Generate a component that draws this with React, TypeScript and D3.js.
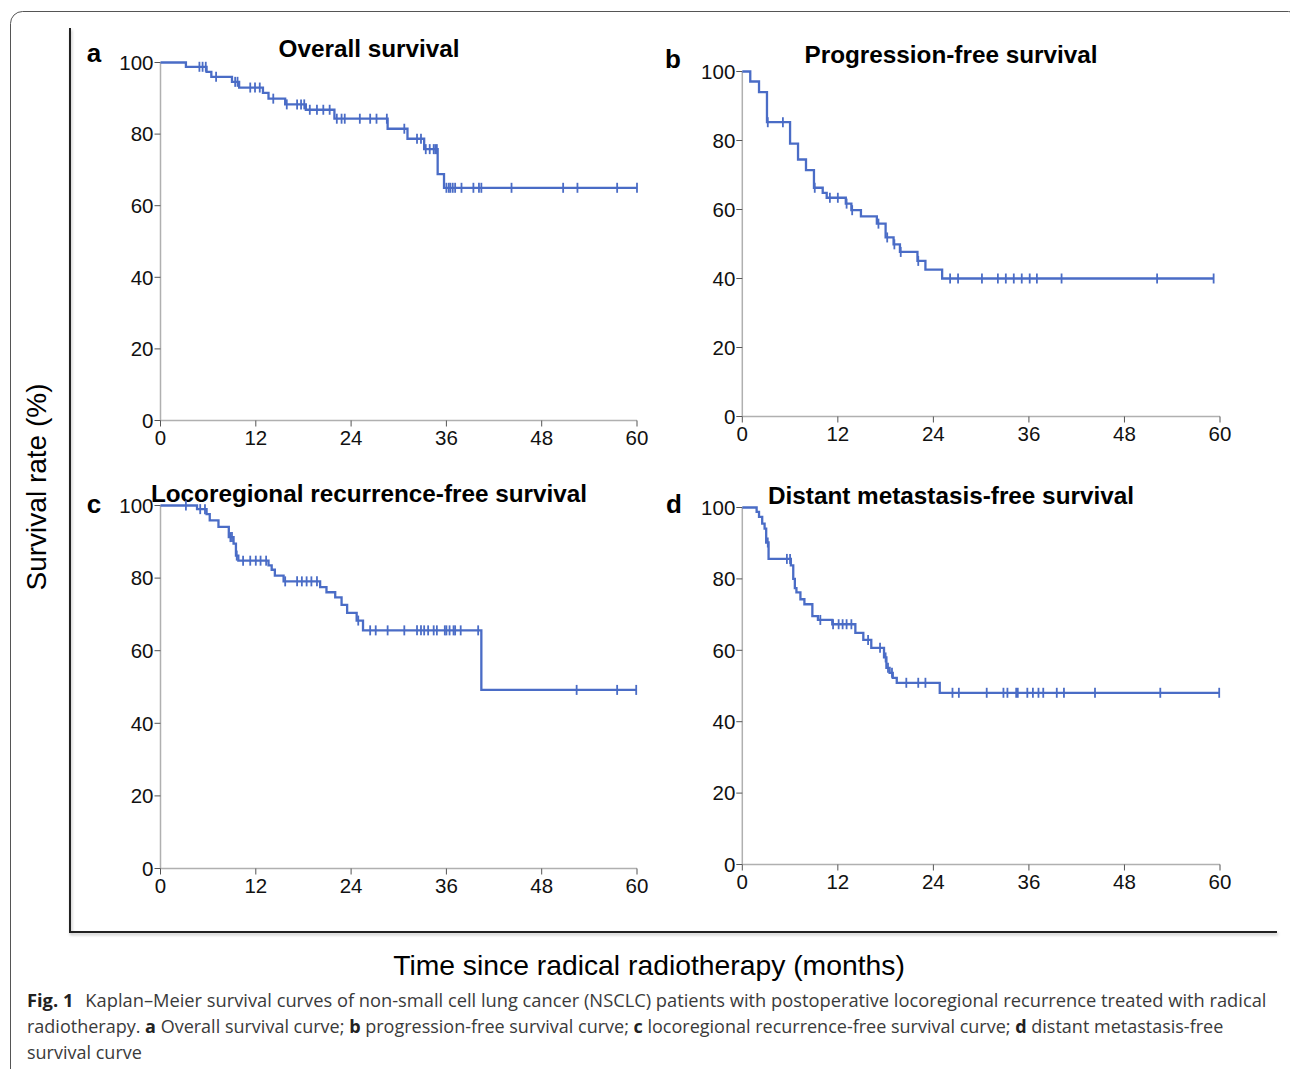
import React from "react";
import * as d3 from "d3";

// overall survival
const osTimes = [3.2, 5.8, 6.4, 9.0, 9.9, 12.9, 13.6, 15.7, 18.3, 21.9, 28.6, 31.1, 33.2, 34.9, 35.7];
const osSurv = [98.8, 97.4, 96.0, 94.6, 93.0, 91.5, 89.9, 88.3, 86.8, 84.3, 81.5, 78.7, 75.8, 68.8, 65.0];
const osCensor = [4.9, 5.3, 5.7, 7.0, 9.4, 9.7, 11.3, 11.9, 12.5, 14.2, 15.9, 17.2, 17.7, 18.1, 18.8, 19.7, 20.5, 21.3, 22.2, 22.8, 23.2, 25.1, 26.4, 27.2, 28.5, 30.7, 32.3, 32.8, 33.4, 33.9, 34.4, 34.6, 34.8, 36.0, 36.3, 36.5, 36.8, 37.1, 37.9, 39.4, 40.1, 40.4, 44.2, 50.7, 52.5, 57.5, 60.0];

// progression-free survival
const pfsTimes = [1.0, 2.1, 3.1, 6.0, 7.0, 8.0, 9.0, 10.1, 10.6, 13.0, 13.7, 14.9, 16.9, 18.0, 19.0, 19.8, 22.0, 23.0, 25.1];
const pfsSurv = [97.1, 94.0, 85.3, 79.1, 74.5, 71.4, 66.3, 64.8, 63.4, 61.7, 59.8, 58.0, 55.9, 51.9, 49.9, 47.7, 45.1, 42.6, 40.0];
const pfsCensor = [3.2, 5.1, 9.1, 11.0, 12.0, 13.1, 13.8, 17.1, 18.2, 19.1, 19.9, 22.1, 26.1, 27.1, 30.1, 32.1, 33.1, 34.1, 35.1, 36.1, 37.0, 40.1, 52.1, 59.2];

// locoregional recurrence-free survival
const lrTimes = [4.6, 5.8, 6.2, 7.3, 8.6, 9.2, 9.5, 9.8, 13.6, 14.0, 14.4, 15.5, 20.1, 20.9, 22.0, 22.8, 23.5, 24.7, 25.5, 40.4];
const lrSurv = [99.0, 97.6, 95.9, 94.1, 91.3, 89.5, 86.2, 84.8, 83.5, 82.3, 80.7, 79.1, 77.5, 76.1, 74.7, 72.6, 70.4, 68.3, 65.6, 49.2];
const lrCensor = [3.2, 5.0, 5.6, 8.8, 9.0, 9.6, 10.4, 11.3, 12.0, 12.6, 13.3, 15.7, 17.2, 17.8, 18.4, 19.0, 19.7, 24.9, 26.4, 27.1, 28.6, 30.7, 32.3, 32.8, 33.2, 33.7, 34.4, 34.8, 35.8, 36.0, 36.4, 36.9, 37.1, 37.8, 40.0, 52.4, 57.5, 59.9];

// distant metastasis-free survival
const dmTimes = [1.8, 2.1, 2.5, 2.8, 3.0, 3.3, 6.1, 6.4, 6.6, 6.8, 7.3, 7.8, 8.8, 9.5, 11.3, 14.2, 15.2, 16.2, 17.8, 18.1, 18.5, 18.9, 19.4, 24.8];
const dmSurv = [98.8, 97.4, 95.5, 94.1, 90.2, 85.6, 83.8, 80.0, 77.4, 76.2, 74.3, 72.9, 69.6, 68.5, 67.3, 64.9, 62.9, 60.7, 58.0, 55.1, 53.7, 52.3, 50.9, 48.1];
const dmCensor = [3.2, 5.6, 6.0, 9.8, 11.4, 12.1, 12.6, 13.1, 13.7, 15.8, 17.3, 18.0, 18.3, 18.8, 20.6, 22.1, 23.0, 26.4, 27.2, 30.7, 32.8, 33.3, 34.4, 34.6, 35.8, 36.5, 37.2, 37.8, 39.5, 40.4, 44.3, 52.5, 59.9];

const xTicks = [0, 12, 24, 36, 48, 60];
const yTicks = [0, 20, 40, 60, 80, 100];

const BLUE = "#4a6cc6";
const FONT = "'Liberation Sans', Arial, Helvetica, sans-serif";

type PanelProps = {
  x0: number; x1: number; yTop: number; yBot: number;
  letter: string; lx: number; ly: number;
  title: string; tx: number; ty: number;
  times: number[]; surv: number[]; censor: number[];
};

const Panel = ({ x0, x1, yTop, yBot, letter, lx, ly, title, tx, ty, times, surv, censor }: PanelProps) => {
  const x = d3.scaleLinear().domain([0, 60]).range([x0, x1]);
  const y = d3.scaleLinear().domain([0, 100]).range([yBot, yTop]);
  const last = d3.max(censor) ?? 60;
  const pts: [number, number][] = [[0, 100], ...times.map((t, i) => [t, surv[i]] as [number, number]), [last, surv[surv.length - 1]]];
  const line = d3.line<[number, number]>().x(d => x(d[0])).y(d => y(d[1])).curve(d3.curveStepAfter);
  const survAt = (t: number) => {
    let s = 100;
    times.forEach((tt, i) => { if (tt <= t) s = surv[i]; });
    return s;
  };
  return (
    <g>
      <text x={lx} y={ly} fontFamily={FONT} fontWeight="bold" fontSize={26} textAnchor="middle">{letter}</text>
      <text x={tx} y={ty} fontFamily={FONT} fontWeight="bold" fontSize={24.3} textAnchor="middle">{title}</text>
      <line x1={x0} x2={x0} y1={yTop} y2={yBot} stroke="#b0b0b0" strokeWidth={1.5} />
      <line x1={x0} x2={x1} y1={yBot} y2={yBot} stroke="#b0b0b0" strokeWidth={1.5} />
      {yTicks.map(t => (
        <g key={"y" + t}>
          <line x1={x0 - 6} x2={x0} y1={y(t)} y2={y(t)} stroke="#555" strokeWidth={1} />
          <text x={x0 - 7} y={y(t)} dy="0.36em" fontFamily={FONT} fontSize={20.5} textAnchor="end" fill="#111">{t}</text>
        </g>
      ))}
      {xTicks.map(t => (
        <g key={"x" + t}>
          <line x1={x(t)} x2={x(t)} y1={yBot} y2={yBot + 6} stroke="#555" strokeWidth={1} />
          <text x={x(t)} y={yBot + 24} fontFamily={FONT} fontSize={20.5} textAnchor="middle" fill="#111">{t}</text>
        </g>
      ))}
      <path d={line(pts) ?? ""} fill="none" stroke={BLUE} strokeWidth={2.3} />
      {censor.map((t, i) => (
        <line key={"c" + i} x1={x(t)} x2={x(t)} y1={y(survAt(t)) - 5} y2={y(survAt(t)) + 5} stroke={BLUE} strokeWidth={1.8} />
      ))}
    </g>
  );
};

const CAP = "'Open Sans', 'Noto Sans', sans-serif";

export default function App() {
  return (
    <svg width={1290} height={1069} style={{ position: "absolute", left: 0, top: 0, background: "#fff" }}>
      <defs>
        <filter id="sh" x="-5%" y="-5%" width="110%" height="110%">
          <feDropShadow dx="1" dy="2" stdDeviation="1.5" floodColor="#000" floodOpacity="0.25" />
        </filter>
      </defs>
      <rect x={10.5} y={11.5} width={1290} height={1100} rx={12} fill="none" stroke="#555" strokeWidth={1} />
      <path d="M70,28 L70,932 L1277,932" fill="none" stroke="#222" strokeWidth={2} filter="url(#sh)" />

      <Panel x0={160.5} x1={637} yTop={62.5} yBot={420.5} letter="a" lx={94} ly={62} title="Overall survival" tx={369} ty={57}
        times={osTimes} surv={osSurv} censor={osCensor} />
      <Panel x0={742.3} x1={1220} yTop={71.5} yBot={416.5} letter="b" lx={673} ly={68} title="Progression-free survival" tx={951} ty={63}
        times={pfsTimes} surv={pfsSurv} censor={pfsCensor} />
      <Panel x0={160.5} x1={637} yTop={505.5} yBot={868.5} letter="c" lx={94} ly={513} title="Locoregional recurrence-free survival" tx={369} ty={502}
        times={lrTimes} surv={lrSurv} censor={lrCensor} />
      <Panel x0={742.3} x1={1220} yTop={507.5} yBot={864.5} letter="d" lx={674} ly={513} title="Distant metastasis-free survival" tx={951} ty={504}
        times={dmTimes} surv={dmSurv} censor={dmCensor} />

      <text transform="translate(46,487) rotate(-90)" fontFamily={FONT} fontSize={28} textAnchor="middle">Survival rate (%)</text>
      <text x={649} y={975} fontFamily={FONT} fontSize={28.3} textAnchor="middle">Time since radical radiotherapy (months)</text>

      <g fontFamily={CAP} fill="#3a3a3a">
        <text x={27} y={1007} fontSize={18.3}>
          <tspan fontWeight="bold" fill="#222">Fig. 1</tspan>
          <tspan dx={12}>Kaplan–Meier survival curves of non-small cell lung cancer (NSCLC) patients with postoperative locoregional recurrence treated with radical</tspan>
        </text>
        <text x={27} y={1033} fontSize={18}>
          radiotherapy. <tspan fontWeight="bold" fill="#222">a</tspan> Overall survival curve; <tspan fontWeight="bold" fill="#222">b</tspan> progression-free survival curve; <tspan fontWeight="bold" fill="#222">c</tspan> locoregional recurrence-free survival curve; <tspan fontWeight="bold" fill="#222">d</tspan> distant metastasis-free
        </text>
        <text x={27} y={1059} fontSize={18}>survival curve</text>
      </g>
    </svg>
  );
}
